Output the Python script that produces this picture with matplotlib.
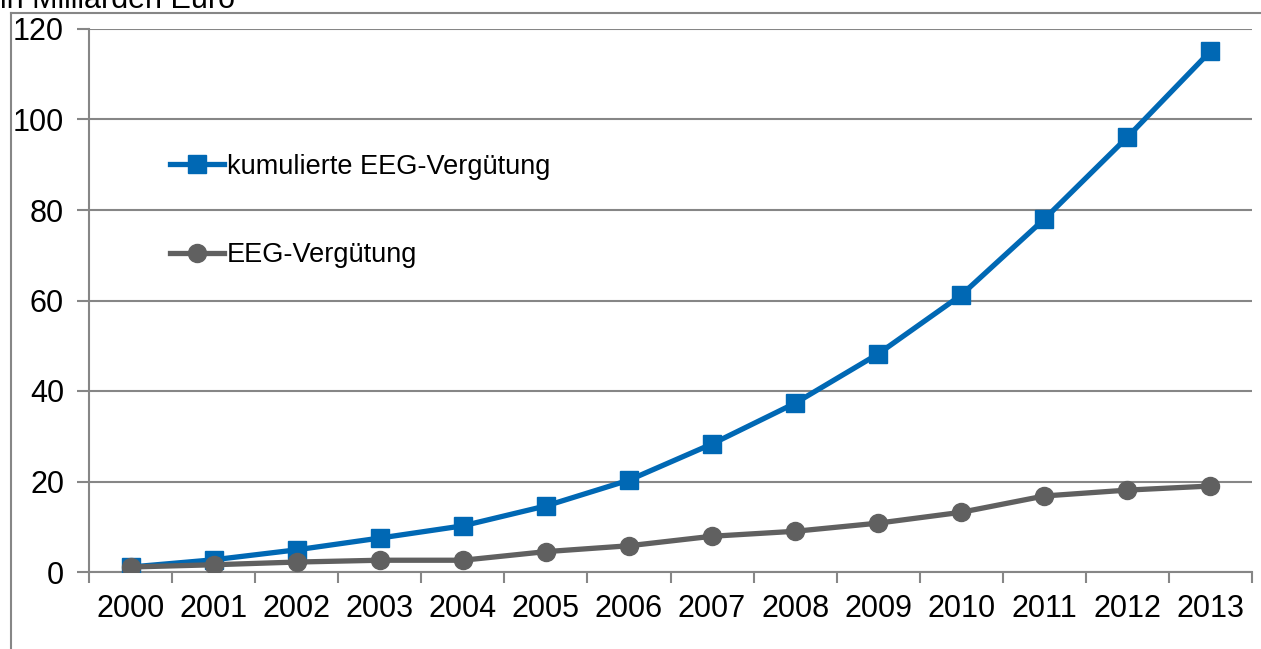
import numpy as np
import matplotlib
matplotlib.use('Agg')
import matplotlib.pyplot as plt
from matplotlib.lines import Line2D

# Daten (Milliarden Euro)
jahre = ['2000', '2001', '2002', '2003', '2004', '2005', '2006',
         '2007', '2008', '2009', '2010', '2011', '2012', '2013']
kumuliert = [1.1, 2.7, 4.9, 7.5, 10.2, 14.6, 20.3, 28.3, 37.3, 48.2, 61.2, 78.0, 96.1, 115.1]
verguetung = [1.1, 1.6, 2.2, 2.6, 2.6, 4.5, 5.8, 7.9, 9.0, 10.8, 13.2, 16.8, 18.1, 19.0]
y_ticks = [0, 20, 40, 60, 80, 100, 120]

plt.rcParams['font.family'] = ['Liberation Sans', 'DejaVu Sans']

blau = '#0068B4'
grau = '#606060'
linie = '#868686'

fig = plt.figure(figsize=(12.61, 6.49), dpi=100)
ax = fig.add_axes([89/1261, 1 - 572/649, (1252 - 89)/1261, (572 - 29)/649])

x = np.arange(len(jahre))
ax.plot(x, kumuliert, color=blau, lw=3.8, marker='s', ms=12.5,
        label='kumulierte EEG-Vergütung', zorder=3)
ax.plot(x, verguetung, color=grau, lw=3.8, marker='o', ms=13,
        label='EEG-Vergütung', zorder=4)

ax.set_xlim(-0.5, len(jahre) - 0.5)
ax.set_ylim(0, 120)
ax.set_yticks(y_ticks)
ax.set_xticks(x)
ax.set_xticklabels(jahre)
ax.set_xticks(np.arange(-0.5, len(jahre)), minor=True)

ax.grid(axis='y', color=linie, lw=1.5)
ax.set_axisbelow(True)
for s in ['top', 'right']:
    ax.spines[s].set_visible(False)
for s in ['left', 'bottom']:
    ax.spines[s].set_color(linie)
    ax.spines[s].set_linewidth(1.5)

ax.tick_params(axis='y', length=9, width=1.5, color=linie, labelsize=22, pad=9)
ax.tick_params(axis='x', which='major', length=0, labelsize=22, pad=16)
ax.tick_params(axis='x', which='minor', length=8, width=1.5, color=linie)

leg = ax.legend(loc='upper left', bbox_to_anchor=(0.058, 0.795), frameon=False,
                fontsize=19.5, labelspacing=2.3, handlelength=2.0,
                handletextpad=0.1, borderpad=0)

# Rahmen links und oben
fig.add_artist(Line2D([11/1261, 11/1261], [0, 1 - 13/649], color=linie, lw=1.5))
fig.add_artist(Line2D([11/1261, 1], [1 - 13/649, 1 - 13/649], color=linie, lw=1.5))

# Einheit oben links (im Original am Rand abgeschnitten)
fig.text(0.0, 1 - 8/649, 'in Milliarden Euro', fontsize=22, va='baseline', ha='left')

fig.savefig('out.png', dpi=100)
